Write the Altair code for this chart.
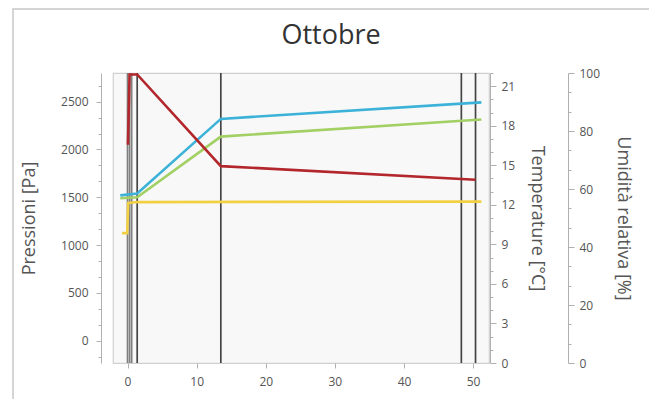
import altair as alt
import pandas as pd

# ---- data ----
series_names = ["yellow", "green", "cyan", "red"]
series_colors = ["#f2d044", "#a2d064", "#3cb2d8", "#b2262c"]

yellow_x = [-0.8, -0.05, 0.1, 1.4, 51.2]
yellow_y = [1125, 1125, 1440, 1450, 1455]
green_x = [-1.05, 1.4, 13.5, 51.2]
green_y = [1490, 1500, 2135, 2313]
cyan_x = [-1.05, 1.4, 13.5, 51.2]
cyan_y = [1520, 1540, 2320, 2493]
red_x = [0.06, 0.3, 1.4, 13.5, 50.35]
red_y = [2050, 2785, 2785, 1826, 1684]

layer_x = [0.0, 0.3, 0.6, 1.4, 13.5, 48.3, 50.35]
layer_kind = ["thin", "thin", "thin", "main", "main", "main", "main"]

x_ticks = [0, 10, 20, 30, 40, 50]
pa_ticks = [0, 500, 1000, 1500, 2000, 2500]
pa_minor = [-166.7, 166.7, 333.3, 666.7, 833.3, 1166.7, 1333.3, 1666.7, 1833.3,
            2166.7, 2333.3, 2666.7]
t_ticks = [0, 3, 6, 9, 12, 15, 18, 21]
t_minor = [1, 2, 4, 5, 7, 8, 10, 11, 13, 14, 16, 17, 19, 20, 22]
u_ticks = [0, 20, 40, 60, 80, 100]
u_minor = [6.67, 13.33, 26.67, 33.33, 46.67, 53.33, 66.67, 73.33, 86.67, 93.33]

# ---- tables ----
rows = []
for name, xs, ys in [("yellow", yellow_x, yellow_y), ("green", green_x, green_y),
                     ("cyan", cyan_x, cyan_y), ("red", red_x, red_y)]:
    for i, (xv, yv) in enumerate(zip(xs, ys)):
        rows.append({"serie": name, "x": xv, "pa": yv, "i": i})
curves = pd.DataFrame(rows)
layers = pd.DataFrame({"x": layer_x, "kind": layer_kind})
dummy = pd.DataFrame({"v": [0]})

FONT = "Open Sans"
LBL = "#555555"
TCK = "#b0b0b0"

xscale = alt.Scale(domain=[-2.1, 52.3], nice=False, zero=False)
xaxis = alt.Axis(values=x_ticks, tickSize=5, domain=False, grid=False, title=None,
                 labelColor=LBL, labelFontSize=12, labelFont=FONT, tickColor=TCK,
                 labelPadding=8)
pa_scale = alt.Scale(domain=[-233, 2800], nice=False, zero=False)

frame = alt.Chart(dummy).mark_rect(fillOpacity=0, stroke="#c8c8c8", strokeWidth=1.5).encode(
    x=alt.value(-100), x2=alt.value(537), y=alt.value(-64), y2=alt.value(330)
)

vlines = alt.Chart(layers).mark_rule(strokeWidth=1.7).encode(
    x=alt.X("x:Q", scale=xscale, axis=xaxis),
    color=alt.Color("kind:N", scale=alt.Scale(domain=["thin", "main"],
                                              range=["#808080", "#454545"]), legend=None),
)

lines = alt.Chart(curves).mark_line(strokeWidth=2.6, clip=True).encode(
    x=alt.X("x:Q", scale=xscale, axis=xaxis),
    y=alt.Y("pa:Q", scale=pa_scale,
            axis=alt.Axis(orient="left", offset=12, values=pa_ticks, tickSize=5,
                          format="d",
                          grid=False, domainColor=TCK, tickColor=TCK,
                          labelColor=LBL, labelFontSize=12, labelFont=FONT,
                          labelPadding=8,
                          title="Pressioni [Pa]", titleFont=FONT, titleFontSize=18,
                          titleFontWeight="normal", titleColor=LBL, titlePadding=22)),
    color=alt.Color("serie:N", scale=alt.Scale(domain=series_names, range=series_colors),
                    legend=None),
    detail="serie:N",
    order="i:Q",
)


def axis_layer(field, domain, orient, offset, values, tick, labels, title=None, pad=10):
    ax = dict(orient=orient, offset=offset, values=values, tickSize=tick, grid=False,
              domainColor=TCK, tickColor=TCK, labels=labels, labelColor=LBL,
              labelFontSize=12, labelFont=FONT, labelPadding=5)
    if title:
        ax.update(title=title, titleFont=FONT, titleFontSize=18, titleFontWeight="normal",
                  titleColor=LBL, titlePadding=pad, titleAngle=90)
    else:
        ax.update(title=None, domain=False)
    return alt.Chart(dummy.rename(columns={"v": field})).mark_point(opacity=0).encode(
        y=alt.Y(f"{field}:Q", scale=alt.Scale(domain=domain, nice=False, zero=False),
                axis=alt.Axis(**ax))
    )


pa_min = axis_layer("pam", [-233, 2800], "left", 12, pa_minor, 3, False)
t_major = axis_layer("t", [0, 22], "right", 1, t_ticks, 6, True, "Temperature [°C]", 13)
t_min = axis_layer("tm", [0, 22], "right", 1, t_minor, 3, False)
u_major = axis_layer("u", [0, 100], "right", 79, u_ticks, 6, True, "Umidità relativa [%]", 14)
u_min = axis_layer("um", [0, 100], "right", 79, u_minor, 3, False)

chart = alt.layer(frame, vlines, lines, pa_min, t_major, t_min, u_major, u_min).resolve_scale(
    y="independent", color="independent"
).properties(
    width=376, height=290,
    padding={"left": 105, "top": 65, "right": 160, "bottom": 36},
    autosize=alt.AutoSizeParams(type="none"),
    title=alt.TitleParams("Ottobre", fontSize=27, font=FONT, fontWeight="normal",
                          color="#333333", anchor="middle", dx=30, dy=42, offset=0),
    background="white",
).configure_view(stroke="#d0d0d0", fill="#f8f8f8", strokeWidth=1.2)

chart.save("out.html", embed_options={"renderer": "svg", "actions": False})
